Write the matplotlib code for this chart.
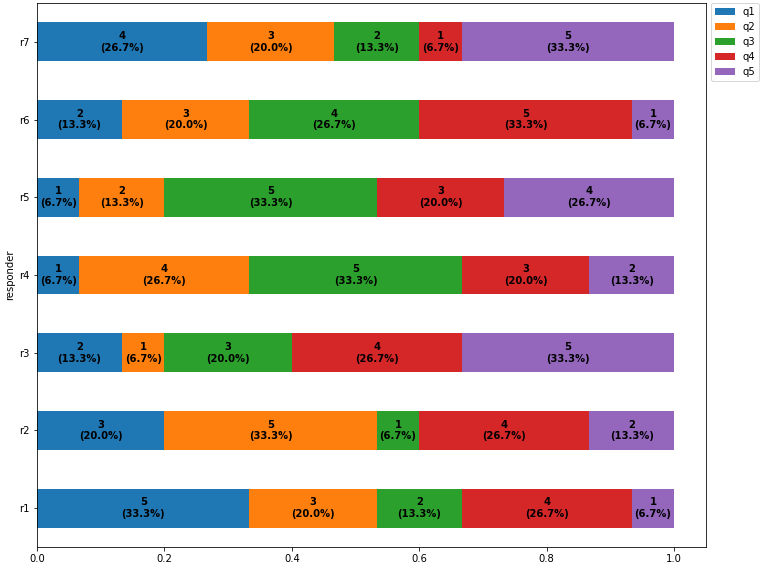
import numpy as np
import pandas as pd
import matplotlib
matplotlib.use('Agg')
import matplotlib.pyplot as plt

responders = ['r1', 'r2', 'r3', 'r4', 'r5', 'r6', 'r7']
q1 = [5, 3, 2, 1, 1, 2, 4]
q2 = [3, 5, 1, 4, 2, 3, 3]
q3 = [2, 1, 3, 5, 5, 4, 2]
q4 = [4, 4, 4, 3, 3, 5, 1]
q5 = [1, 2, 5, 2, 4, 1, 5]

df = pd.DataFrame({'q1': q1, 'q2': q2, 'q3': q3, 'q4': q4, 'q5': q5},
                  index=pd.Index(responders, name='responder'))
totals = df.sum(axis=1)
frac = df.div(totals, axis=0)

fig, ax = plt.subplots(figsize=(765 / 72, 569 / 72), dpi=72)
fig.subplots_adjust(left=37 / 765, right=706 / 765, top=1 - 3 / 569, bottom=1 - 547 / 569)

frac.plot(kind='barh', stacked=True, ax=ax, width=0.5)

# labels in the middle of each segment
for i, r in enumerate(df.index):
    left = 0
    for col in df.columns:
        w = frac.loc[r, col]
        ax.text(left + w / 2, i, f"{df.loc[r, col]}\n({w * 100:.1f}%)",
                ha='center', va='center', fontsize=10, fontweight='bold')
        left += w

ax.legend(loc='upper left', bbox_to_anchor=(1.007, 1.0), borderaxespad=0)
plt.savefig('out.png', dpi=72)
